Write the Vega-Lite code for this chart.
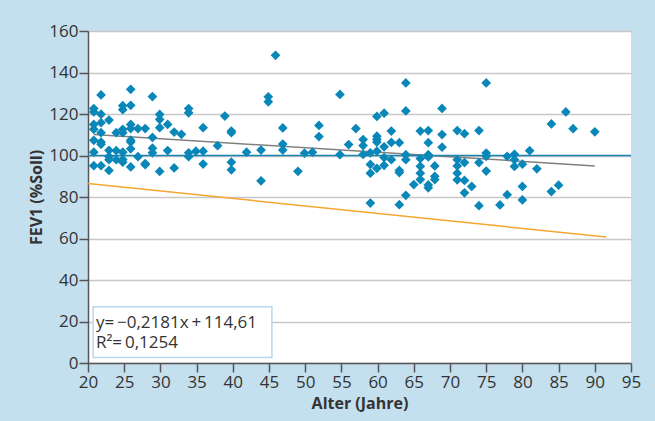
{
  "$schema": "https://vega.github.io/schema/vega-lite/v6.json",
  "width": 543,
  "height": 332,
  "autosize": {"type": "none"},
  "padding": {"left": 88, "top": 31, "right": 24, "bottom": 58},
  "background": "#c4e0ef",
  "config": {
    "view": {"fill": "white", "stroke": null},
    "font": "Open Sans",
    "axis": {
      "labelFont": "Open Sans",
      "titleFont": "Open Sans",
      "labelFontSize": 17,
      "labelColor": "#333333",
      "titleFontSize": 16,
      "titleFontWeight": "bold",
      "titleColor": "#333333",
      "domainColor": "#555555",
      "tickColor": "#555555",
      "domainWidth": 1.5,
      "tickWidth": 1.5,
      "tickSize": 9
    }
  },
  "datasets": {
    "points": [
      {"x": 20.8, "y": 122.6}, {"x": 20.8, "y": 121}, {"x": 20.8, "y": 115}, {"x": 20.8, "y": 112.6}, {"x": 20.8, "y": 107.3}, {"x": 20.8, "y": 101.6}, {"x": 20.8, "y": 95.1},
      {"x": 21.8, "y": 129.2}, {"x": 21.8, "y": 119.9}, {"x": 21.8, "y": 115.8}, {"x": 21.8, "y": 111}, {"x": 21.8, "y": 106.5}, {"x": 21.8, "y": 105.4}, {"x": 21.8, "y": 95.1},
      {"x": 22.9, "y": 117.1}, {"x": 22.9, "y": 102.5}, {"x": 22.9, "y": 99.5}, {"x": 22.9, "y": 98}, {"x": 22.9, "y": 92.8},
      {"x": 23.9, "y": 111}, {"x": 23.9, "y": 102.3}, {"x": 23.9, "y": 98},
      {"x": 24.8, "y": 124}, {"x": 24.8, "y": 122.1}, {"x": 24.8, "y": 112.6}, {"x": 24.8, "y": 111}, {"x": 24.8, "y": 101.6}, {"x": 24.8, "y": 98.1}, {"x": 24.8, "y": 96.8},
      {"x": 25.9, "y": 131.9}, {"x": 25.9, "y": 124.2}, {"x": 25.9, "y": 115}, {"x": 25.9, "y": 113}, {"x": 25.9, "y": 107.4}, {"x": 25.9, "y": 106.5}, {"x": 25.9, "y": 103.2}, {"x": 25.9, "y": 94.5},
      {"x": 26.9, "y": 113}, {"x": 26.9, "y": 99.4},
      {"x": 27.9, "y": 113}, {"x": 27.9, "y": 96.1}, {"x": 27.9, "y": 95.6},
      {"x": 28.9, "y": 128.4}, {"x": 28.9, "y": 108.7}, {"x": 28.9, "y": 103.5}, {"x": 28.9, "y": 101.3},
      {"x": 29.9, "y": 119.8}, {"x": 29.9, "y": 117.4}, {"x": 29.9, "y": 113.4}, {"x": 29.9, "y": 92.3},
      {"x": 31, "y": 115}, {"x": 31, "y": 102.4},
      {"x": 31.9, "y": 111.3}, {"x": 31.9, "y": 94},
      {"x": 32.9, "y": 110.2},
      {"x": 33.9, "y": 122.6}, {"x": 33.9, "y": 120.6}, {"x": 33.9, "y": 101.3}, {"x": 33.9, "y": 99.4},
      {"x": 34.9, "y": 102.1},
      {"x": 35.9, "y": 113.4}, {"x": 35.9, "y": 102.1}, {"x": 35.9, "y": 95.9},
      {"x": 37.9, "y": 104.7},
      {"x": 38.9, "y": 119},
      {"x": 39.8, "y": 111.8}, {"x": 39.8, "y": 111}, {"x": 39.8, "y": 96.8}, {"x": 39.8, "y": 93.1},
      {"x": 41.9, "y": 101.6},
      {"x": 43.9, "y": 102.6}, {"x": 43.9, "y": 87.8},
      {"x": 44.9, "y": 128.3}, {"x": 44.9, "y": 125.9},
      {"x": 45.9, "y": 148.3},
      {"x": 46.9, "y": 113.3}, {"x": 46.9, "y": 105.5}, {"x": 46.9, "y": 102.6},
      {"x": 49, "y": 92.4},
      {"x": 49.9, "y": 101.1},
      {"x": 51, "y": 101.6},
      {"x": 51.9, "y": 114.5}, {"x": 51.9, "y": 109.1},
      {"x": 54.8, "y": 129.4}, {"x": 54.8, "y": 100.4},
      {"x": 56, "y": 105.3},
      {"x": 57, "y": 113},
      {"x": 58, "y": 107.7}, {"x": 58, "y": 104.8}, {"x": 58, "y": 100.5},
      {"x": 59, "y": 101.3}, {"x": 59, "y": 95.7}, {"x": 59, "y": 91.5}, {"x": 59, "y": 77.1},
      {"x": 59.9, "y": 118.8}, {"x": 59.9, "y": 109.3}, {"x": 59.9, "y": 107.8}, {"x": 59.9, "y": 106.5}, {"x": 59.9, "y": 102.1}, {"x": 59.9, "y": 93.8},
      {"x": 60.9, "y": 120.4}, {"x": 60.9, "y": 104.2}, {"x": 60.9, "y": 99}, {"x": 60.9, "y": 95.3},
      {"x": 61.9, "y": 111.8}, {"x": 61.9, "y": 106.3}, {"x": 61.9, "y": 98},
      {"x": 63, "y": 106.2}, {"x": 63, "y": 92.8}, {"x": 63, "y": 91.8}, {"x": 63, "y": 76.3},
      {"x": 63.9, "y": 135}, {"x": 63.9, "y": 121.5}, {"x": 63.9, "y": 100.4}, {"x": 63.9, "y": 98}, {"x": 63.9, "y": 80.8},
      {"x": 65, "y": 86},
      {"x": 65.9, "y": 111.8}, {"x": 65.9, "y": 98.5}, {"x": 65.9, "y": 94.8}, {"x": 65.9, "y": 91.5}, {"x": 65.9, "y": 88.4},
      {"x": 67, "y": 112}, {"x": 67, "y": 106.2}, {"x": 67, "y": 100.4}, {"x": 67, "y": 99.3}, {"x": 67, "y": 85.8}, {"x": 67, "y": 84.4},
      {"x": 67.9, "y": 95}, {"x": 67.9, "y": 90}, {"x": 67.9, "y": 88.4},
      {"x": 68.9, "y": 122.7}, {"x": 68.9, "y": 110.1}, {"x": 68.9, "y": 104},
      {"x": 71, "y": 112}, {"x": 71, "y": 98}, {"x": 71, "y": 95}, {"x": 71, "y": 91.5}, {"x": 71, "y": 88.3},
      {"x": 72, "y": 110.5}, {"x": 72, "y": 96.6}, {"x": 72, "y": 88}, {"x": 72, "y": 82},
      {"x": 73, "y": 85.1},
      {"x": 74, "y": 112}, {"x": 74, "y": 96.6}, {"x": 74, "y": 75.8},
      {"x": 75, "y": 135}, {"x": 75, "y": 101.2}, {"x": 75, "y": 99.6}, {"x": 75, "y": 92.5},
      {"x": 76.9, "y": 76.2},
      {"x": 77.9, "y": 99.6}, {"x": 77.9, "y": 81.1},
      {"x": 78.9, "y": 100.6}, {"x": 78.9, "y": 98}, {"x": 78.9, "y": 94.7},
      {"x": 80, "y": 95.8}, {"x": 80, "y": 85.1}, {"x": 80, "y": 78.6},
      {"x": 81, "y": 102.3},
      {"x": 82, "y": 93.6},
      {"x": 84, "y": 115.2}, {"x": 84, "y": 82.6},
      {"x": 85, "y": 85.7},
      {"x": 86, "y": 121},
      {"x": 87, "y": 112.9},
      {"x": 90, "y": 111.4}
    ],
    "lines": [
      {"series": "Regression", "x": 20.8, "y": 110.07},
      {"series": "Regression", "x": 90, "y": 94.98},
      {"series": "Soll", "x": 20, "y": 100},
      {"series": "Soll", "x": 95, "y": 100},
      {"series": "Untergrenze", "x": 20, "y": 86.5},
      {"series": "Untergrenze", "x": 91.6, "y": 60.7}
    ],
    "box": [{"x": 20.7, "x2": 45.4, "y": 27.1, "y2": 2.6}],
    "labels": [
      {"x": 21.1, "y": 19.4, "label": "y=\u2009−0,2181x\u2009+\u2009114,61"},
      {"x": 21.1, "y": 9.4, "label": "R²=\u20090,1254"}
    ]
  },
  "encoding": {
    "x": {
      "field": "x",
      "type": "quantitative",
      "scale": {"domain": [20, 95], "nice": false, "zero": false},
      "axis": {
        "title": "Alter (Jahre)",
        "values": [20, 25, 30, 35, 40, 45, 50, 55, 60, 65, 70, 75, 80, 85, 90, 95],
        "grid": false,
        "labelFlush": false,
        "labelPadding": 2,
        "titlePadding": 5
      }
    },
    "y": {
      "field": "y",
      "type": "quantitative",
      "scale": {"domain": [0, 160], "nice": false},
      "axis": {
        "title": "FEV1 (%Soll)",
        "values": [0, 20, 40, 60, 80, 100, 120, 140, 160],
        "grid": true,
        "gridColor": "#c8c8c8",
        "gridWidth": 1.5,
        "labelPadding": 1,
        "titlePadding": 4
      }
    }
  },
  "layer": [
    {
      "data": {"name": "box"},
      "mark": {"type": "rect", "fill": "white", "stroke": "#b8d8ea", "strokeWidth": 1.5},
      "encoding": {"x2": {"field": "x2"}, "y2": {"field": "y2"}}
    },
    {
      "data": {"name": "labels"},
      "mark": {"type": "text", "align": "left", "baseline": "middle", "fontSize": 17, "color": "#333333", "font": "Open Sans"},
      "encoding": {"text": {"field": "label"}}
    },
    {
      "data": {"name": "lines"},
      "mark": {"type": "line", "strokeWidth": 1.5},
      "encoding": {
        "color": {
          "field": "series",
          "type": "nominal",
          "scale": {"domain": ["Regression", "Soll", "Untergrenze"], "range": ["#808080", "#1a82ad", "#f7a531"]},
          "legend": null
        }
      }
    },
    {
      "data": {"name": "points"},
      "mark": {"type": "point", "shape": "diamond", "filled": true, "size": 95, "color": "#0a87b9", "opacity": 1}
    }
  ]
}
